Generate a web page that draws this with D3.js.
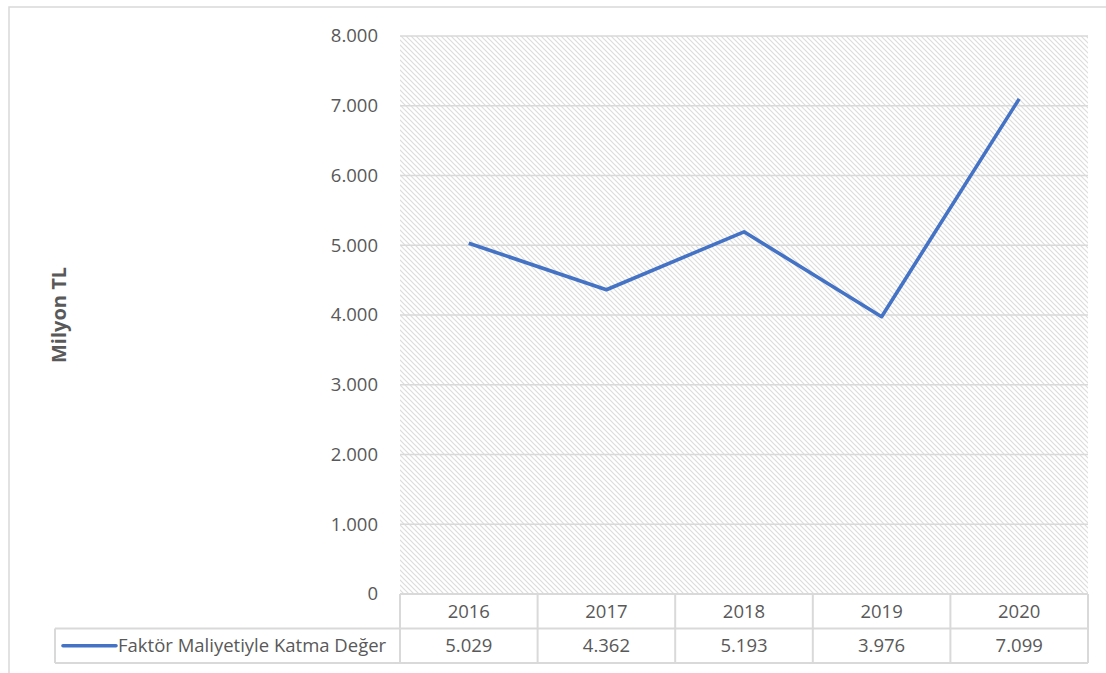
<!DOCTYPE html>
<html>
<head>
<meta charset="utf-8">
<script src="https://cdn.jsdelivr.net/npm/d3@7/dist/d3.min.js"></script>
<style>
  body { margin: 0; background: #fff; }
  svg text { font-family: "Open Sans", "Noto Sans", sans-serif; fill: #595959; }
</style>
</head>
<body>
<div id="chart"></div>
<script>
var years = ["2016", "2017", "2018", "2019", "2020"];
var values = [5029, 4362, 5193, 3976, 7099];
var valueLabels = ["5.029", "4.362", "5.193", "3.976", "7.099"];
var yTicks = [0, 1000, 2000, 3000, 4000, 5000, 6000, 7000, 8000];
var seriesName = "Faktör Maliyetiyle Katma Değer";
var axisTitle = "Milyon TL";

var W = 1106, H = 673;
var plot = { left: 400, right: 1088, top: 36, bottom: 594 };
var rowH = 34.5;

var svg = d3.select("#chart").append("svg")
    .attr("width", W).attr("height", H);

// hatch pattern
var defs = svg.append("defs");
var pat = defs.append("pattern")
    .attr("id", "hatch")
    .attr("patternUnits", "userSpaceOnUse")
    .attr("width", 5).attr("height", 5);
pat.append("path")
    .attr("d", "M-1,-1 L6,6 M-1,4 L1,6 M4,-1 L6,1")
    .attr("stroke", "#dcdcdc")
    .attr("stroke-width", 1.2);

// outer chart border
svg.append("rect")
    .attr("x", 9).attr("y", 7)
    .attr("width", W + 20).attr("height", H + 20)
    .attr("fill", "none")
    .attr("stroke", "#d9d9d9").attr("stroke-width", 1.5);

var x = d3.scaleBand().domain(years).range([plot.left, plot.right]);
var y = d3.scaleLinear().domain([0, 8000]).range([plot.bottom, plot.top]);

svg.append("rect")
    .attr("x", plot.left).attr("y", plot.top)
    .attr("width", plot.right - plot.left).attr("height", plot.bottom - plot.top)
    .attr("fill", "url(#hatch)");

// gridlines
svg.append("g").selectAll("line")
    .data(yTicks.slice(1))
    .enter().append("line")
    .attr("x1", plot.left).attr("x2", plot.right)
    .attr("y1", function(d){ return y(d); })
    .attr("y2", function(d){ return y(d); })
    .attr("stroke", "#d9d9d9").attr("stroke-width", 1.5);

// y tick labels
var fmt = function(d){ return d === 0 ? "0" : d3.format(",")(d).replace(/,/g, "."); };
svg.append("g").selectAll("text")
    .data(yTicks)
    .enter().append("text")
    .attr("x", 378)
    .attr("y", function(d){ return y(d); })
    .attr("dy", "0.35em")
    .attr("text-anchor", "end")
    .style("font-size", "18.5px")
    .text(fmt);

// axis title
svg.append("text")
    .attr("transform", "translate(66," + ((plot.top + plot.bottom) / 2) + ") rotate(-90)")
    .attr("text-anchor", "middle")
    .style("font-size", "20px")
    .style("font-weight", "bold")
    .text(axisTitle);

// line
var line = d3.line()
    .x(function(d, i){ return x(years[i]) + x.bandwidth() / 2; })
    .y(function(d){ return y(d); });

svg.append("path")
    .datum(values)
    .attr("d", line)
    .attr("fill", "none")
    .attr("stroke", "#4472c4")
    .attr("stroke-width", 3.6)
    .attr("stroke-linejoin", "round");

// data table
var table = svg.append("g");
var gridColor = "#d9d9d9";
var r1 = plot.bottom, r2 = plot.bottom + rowH, r3 = plot.bottom + 2 * rowH;
var legendLeft = 55;

function hline(x1, x2, yy){
  table.append("line").attr("x1", x1).attr("x2", x2).attr("y1", yy).attr("y2", yy)
    .attr("stroke", gridColor).attr("stroke-width", 2);
}
function vline(xx, y1, y2){
  table.append("line").attr("x1", xx).attr("x2", xx).attr("y1", y1).attr("y2", y2)
    .attr("stroke", gridColor).attr("stroke-width", 2);
}
hline(plot.left, plot.right, r1);
hline(legendLeft, plot.right, r2);
hline(legendLeft, plot.right, r3);
vline(legendLeft, r2, r3);
years.forEach(function(yr){ vline(x(yr), r1, r3); });
vline(plot.right, r1, r3);

table.selectAll(".yr")
    .data(years)
    .enter().append("text")
    .attr("x", function(d){ return x(d) + x.bandwidth() / 2; })
    .attr("y", (r1 + r2) / 2)
    .attr("dy", "0.35em")
    .attr("text-anchor", "middle")
    .style("font-size", "18.5px")
    .text(function(d){ return d; });

table.selectAll(".val")
    .data(valueLabels)
    .enter().append("text")
    .attr("x", function(d, i){ return x(years[i]) + x.bandwidth() / 2; })
    .attr("y", (r2 + r3) / 2)
    .attr("dy", "0.35em")
    .attr("text-anchor", "middle")
    .style("font-size", "18.5px")
    .text(function(d){ return d; });

// legend key
table.append("line")
    .attr("x1", 63).attr("x2", 116)
    .attr("y1", (r2 + r3) / 2).attr("y2", (r2 + r3) / 2)
    .attr("stroke", "#4472c4").attr("stroke-width", 3.6)
    .attr("stroke-linecap", "round");
table.append("text")
    .attr("x", 118)
    .attr("y", (r2 + r3) / 2)
    .attr("dy", "0.35em")
    .style("font-size", "18.5px")
    .text(seriesName);
</script>
</body>
</html>
